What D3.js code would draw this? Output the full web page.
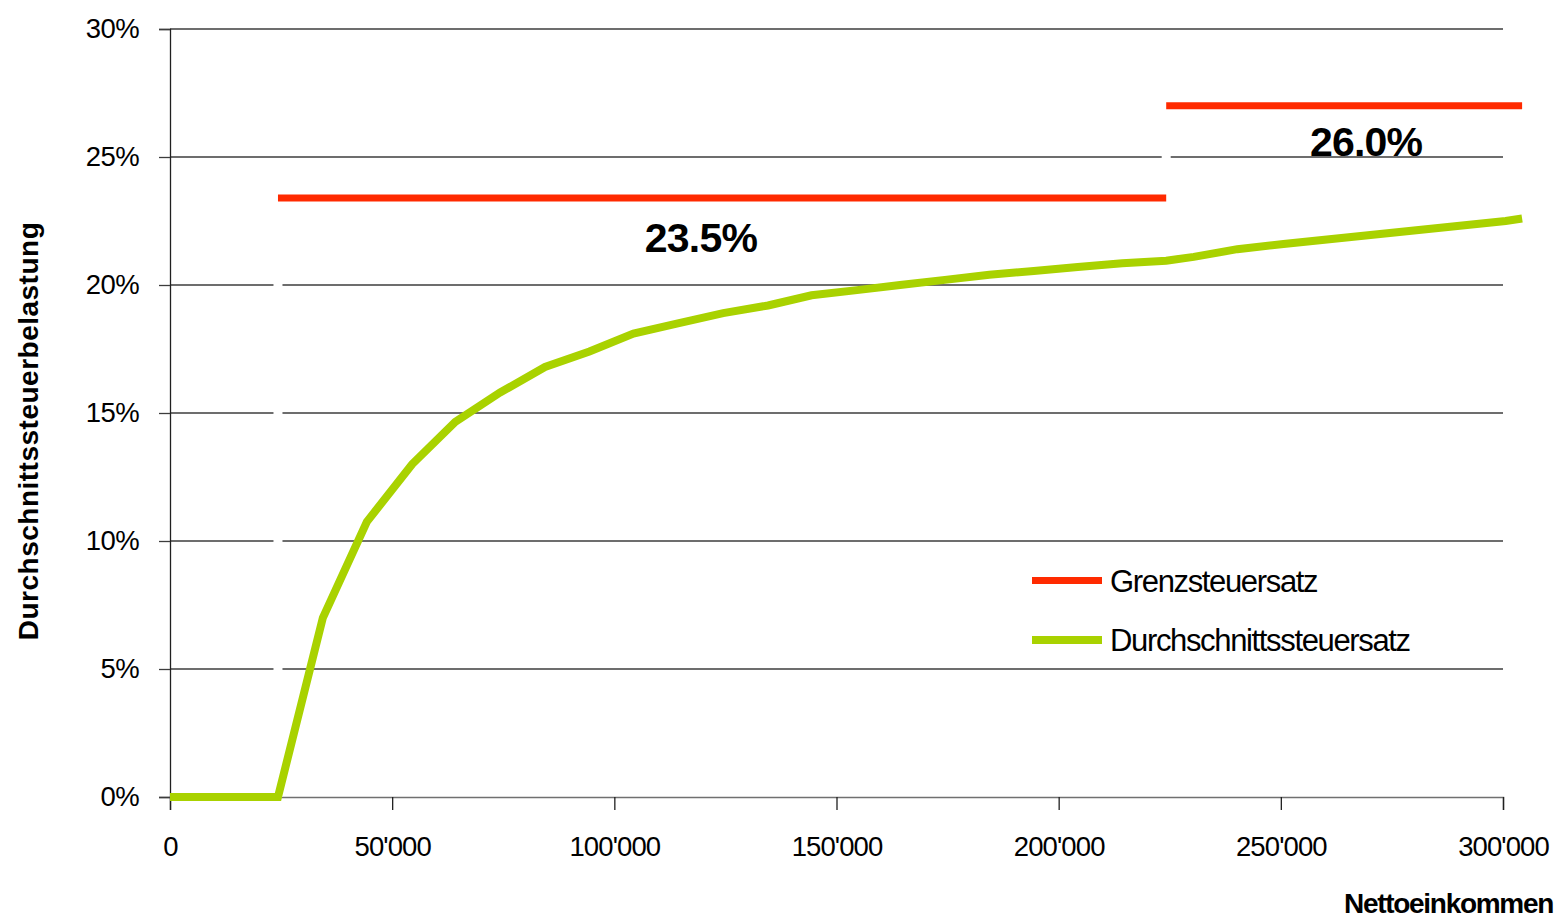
<!DOCTYPE html>
<html>
<head>
<meta charset="utf-8">
<script src="https://cdn.jsdelivr.net/npm/d3@7"></script>
<style>
  html, body { margin: 0; padding: 0; background: #ffffff; }
  svg { display: block; font-family: "Liberation Sans", Arial, sans-serif; }
</style>
</head>
<body>
<svg id="chart" width="1557" height="919"></svg>
<script>
// ---- data ----
const incomes = [0, 24300, 34400, 44300, 54500, 64200, 74300, 84400, 94400, 104300, 114300, 124500, 134600, 144400, 154600, 164300, 174400, 184400, 194400, 204300, 214300, 224200, 230400, 240200, 250600, 300600, 304300];
const avgRate = [0, 0, 7.0, 10.75, 13.0, 14.65, 15.8, 16.8, 17.4, 18.1, 18.5, 18.9, 19.2, 19.6, 19.8, 20.0, 20.2, 20.4, 20.55, 20.7, 20.85, 20.95, 21.1, 21.4, 21.6, 22.5, 22.6];

const bracketStart = [24300, 224200];
const bracketEnd = [224200, 304300];
const marginalRate = [23.4, 27.0];
const marginalLabels = ["23.5%", "26.0%"];
const labelIncome = [119500, 269200];
const labelRate = [21.3, 25.05];

const xTicks = [0, 50000, 100000, 150000, 200000, 250000, 300000];
const yTicks = [0, 5, 10, 15, 20, 25, 30];

const seriesNames = ["Grenzsteuersatz", "Durchschnittssteuersatz"];
const seriesColors = ["#ff2a00", "#a9d200"];
const xTitle = "Nettoeinkommen";
const yTitle = "Durchschnittssteuerbelastung";

// ---- scales ----
const svg = d3.select("#chart");
const x = d3.scaleLinear().domain([0, 300000]).range([170, 1503]);
const y = d3.scaleLinear().domain([0, 30]).range([797, 29]);

// gridlines
svg.append("g").selectAll("line").data(yTicks.filter(d => d > 0)).join("line")
  .attr("x1", x(0)).attr("x2", x(300000))
  .attr("y1", d => y(d)).attr("y2", d => y(d))
  .attr("stroke", "#3c3c3c").attr("stroke-width", 1.3);

// y axis
const yAxis = svg.append("g").attr("transform", `translate(${x(0)},0)`)
  .call(d3.axisLeft(y).tickValues(yTicks).tickSize(11).tickPadding(20).tickFormat(d => d + "%"));
yAxis.select(".domain").attr("stroke", "#202020").attr("stroke-width", 1.3);
yAxis.selectAll(".tick line").attr("stroke", "#3c3c3c").attr("stroke-width", 1.3);
yAxis.selectAll(".tick text").attr("font-size", 27.5).attr("fill", "#000")
  .attr("letter-spacing", "-0.6px")
  .attr("font-family", "Liberation Sans, Arial, sans-serif").attr("dy", "0.3em").attr("x", -31);

// x axis
const xAxis = svg.append("g").attr("transform", `translate(0,${y(0)})`)
  .call(d3.axisBottom(x).tickValues(xTicks).tickSize(13).tickPadding(20)
    .tickFormat(d => d === 0 ? "0" : d3.format(",")(d).replace(/,/g, "'")));
xAxis.select(".domain").attr("stroke", "#707070").attr("stroke-width", 1.5);
xAxis.selectAll(".tick line").attr("stroke", "#202020").attr("stroke-width", 1.3);
xAxis.selectAll(".tick text").attr("font-size", 27.5).attr("fill", "#000")
  .attr("letter-spacing", "-0.9px")
  .attr("font-family", "Liberation Sans, Arial, sans-serif").attr("dy", "0").attr("y", 59);

// hidden (white) risers of the marginal-rate step series
svg.append("g").selectAll("line").data(bracketStart).join("line")
  .attr("x1", d => x(d)).attr("x2", d => x(d))
  .attr("y1", (d, i) => y(i === 0 ? 0 : marginalRate[i - 1]))
  .attr("y2", (d, i) => y(marginalRate[i]))
  .attr("stroke", "#ffffff").attr("stroke-width", 9);

// marginal rate segments
svg.append("g").selectAll("line").data(marginalRate).join("line")
  .attr("x1", (d, i) => x(bracketStart[i])).attr("x2", (d, i) => x(bracketEnd[i]))
  .attr("y1", d => y(d)).attr("y2", d => y(d))
  .attr("stroke", seriesColors[0]).attr("stroke-width", 7);

// average rate line
const pts = incomes.map((v, i) => [v, avgRate[i]]);
svg.append("path").datum(pts)
  .attr("fill", "none").attr("stroke", seriesColors[1]).attr("stroke-width", 8)
  .attr("stroke-linejoin", "miter").attr("stroke-linecap", "butt")
  .attr("d", d3.line().x(d => x(d[0])).y(d => y(d[1])));

// bracket labels
svg.append("g").selectAll("text").data(marginalLabels).join("text")
  .attr("x", (d, i) => x(labelIncome[i])).attr("y", (d, i) => y(labelRate[i]))
  .attr("text-anchor", "middle").attr("font-size", 41).attr("font-weight", "bold")
  .attr("letter-spacing", "-0.8px")
  .attr("fill", "#000").text(d => d);

// legend
const lg = svg.append("g");
const legY = [580.5, 640];
lg.selectAll("line").data(seriesNames).join("line")
  .attr("x1", 1032).attr("x2", 1102)
  .attr("y1", (d, i) => legY[i]).attr("y2", (d, i) => legY[i])
  .attr("stroke", (d, i) => seriesColors[i]).attr("stroke-width", (d, i) => i === 0 ? 7 : 8);
lg.selectAll("text").data(seriesNames).join("text")
  .attr("x", 1110).attr("y", (d, i) => legY[i] + 11)
  .attr("font-size", 31).attr("letter-spacing", "-1.35px").attr("fill", "#000")
  .text(d => d);

// axis titles
svg.append("text").attr("x", 1553).attr("y", 913).attr("text-anchor", "end")
  .attr("font-size", 28).attr("font-weight", "bold").attr("letter-spacing", "-1.3px")
  .attr("fill", "#000").text(xTitle);
svg.append("text").attr("transform", "translate(38,431) rotate(-90)")
  .attr("text-anchor", "middle").attr("font-size", 28).attr("font-weight", "bold")
  .attr("letter-spacing", "0.5px").attr("fill", "#000").text(yTitle);
</script>
</body>
</html>
